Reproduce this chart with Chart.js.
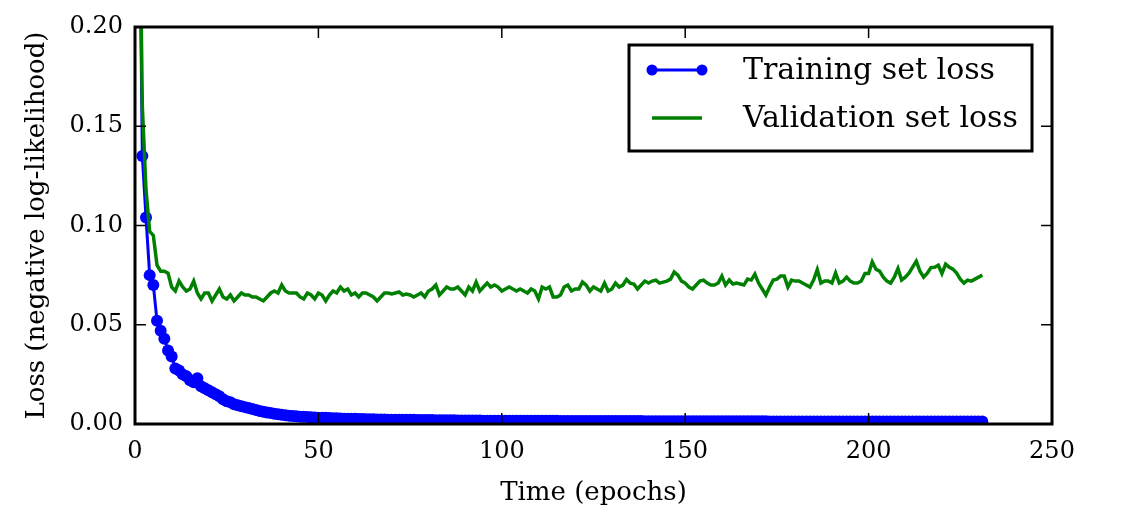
<!DOCTYPE html>
<html>
<head>
<meta charset="utf-8">
<script src="https://cdn.jsdelivr.net/npm/chart.js@4/dist/chart.umd.min.js"></script>
<style>
  html, body { margin: 0; padding: 0; background: #fff; }
  canvas { display: block; }
</style>
</head>
<body>
<canvas id="lossChart" width="1136" height="528"></canvas>
<script>
// loss per epoch (epoch 1 is above the top of the axes)
const trainLoss = [
  0.300, 0.135, 0.104, 0.075, 0.070, 0.052, 0.047, 0.043, 0.037, 0.034,
  0.028, 0.027, 0.025, 0.024, 0.022, 0.021, 0.023, 0.019, 0.018, 0.017,
  0.016, 0.015, 0.014, 0.0125, 0.0115, 0.011, 0.010, 0.0095, 0.009, 0.0085,
  0.008, 0.0075, 0.0070, 0.0066, 0.0062, 0.0058, 0.0055, 0.0052, 0.0049, 0.0046,
  0.0044, 0.0042, 0.0040, 0.0039, 0.0037, 0.0036, 0.0035, 0.0034, 0.0033, 0.0032,
  0.0031, 0.0031, 0.0030, 0.0029, 0.0029, 0.0028, 0.0027, 0.0027, 0.0026, 0.0026,
  0.0025, 0.0025, 0.0024, 0.0024, 0.0024, 0.0023, 0.0023, 0.0023, 0.0022, 0.0022,
  0.0022, 0.0022, 0.0021, 0.0021, 0.0021, 0.0021, 0.0020, 0.0020, 0.0020, 0.0020,
  0.0020, 0.0019, 0.0019, 0.0019, 0.0019, 0.0019, 0.0019, 0.0018, 0.0018, 0.0018,
  0.0018, 0.0018, 0.0018, 0.0018, 0.0017, 0.0017, 0.0017, 0.0017, 0.0017, 0.0017,
  0.0017, 0.0017, 0.0017, 0.0016, 0.0016, 0.0016, 0.0016, 0.0016, 0.0016, 0.0016,
  0.0016, 0.0016, 0.0016, 0.0016, 0.0016, 0.0015, 0.0015, 0.0015, 0.0015, 0.0015,
  0.0015, 0.0015, 0.0015, 0.0015, 0.0015, 0.0015, 0.0015, 0.0015, 0.0015, 0.0015,
  0.0015, 0.0015, 0.0015, 0.0015, 0.0015, 0.0015, 0.0015, 0.0015, 0.0014, 0.0014,
  0.0014, 0.0014, 0.0014, 0.0014, 0.0014, 0.0014, 0.0014, 0.0014, 0.0014, 0.0014,
  0.0014, 0.0014, 0.0014, 0.0014, 0.0014, 0.0014, 0.0014, 0.0014, 0.0014, 0.0014,
  0.0014, 0.0014, 0.0014, 0.0014, 0.0014, 0.0014, 0.0014, 0.0014, 0.0014, 0.0014,
  0.0014, 0.0014, 0.0013, 0.0013, 0.0013, 0.0013, 0.0013, 0.0013, 0.0013, 0.0013,
  0.0013, 0.0013, 0.0013, 0.0013, 0.0013, 0.0013, 0.0013, 0.0013, 0.0013, 0.0013,
  0.0013, 0.0013, 0.0013, 0.0013, 0.0013, 0.0013, 0.0013, 0.0013, 0.0013, 0.0013,
  0.0013, 0.0013, 0.0013, 0.0013, 0.0013, 0.0013, 0.0013, 0.0013, 0.0013, 0.0013,
  0.0013, 0.0013, 0.0013, 0.0013, 0.0013, 0.0013, 0.0013, 0.0013, 0.0013, 0.0013,
  0.0013, 0.0013, 0.0013, 0.0013, 0.0013, 0.0013, 0.0013, 0.0013, 0.0013, 0.0013,
  0.0013
];

const validLoss = [
  0.300, 0.160, 0.118, 0.097, 0.095, 0.080, 0.077, 0.077, 0.076, 0.069,
  0.067, 0.072, 0.069, 0.067, 0.068, 0.072, 0.066, 0.063, 0.066, 0.066,
  0.062, 0.065, 0.068, 0.064, 0.063, 0.065, 0.062, 0.064, 0.066, 0.065,
  0.065, 0.064, 0.064, 0.063, 0.062, 0.064, 0.066, 0.067, 0.066, 0.070,
  0.067, 0.066, 0.066, 0.066, 0.064, 0.063, 0.066, 0.065, 0.063, 0.066,
  0.065, 0.062, 0.065, 0.067, 0.066, 0.069, 0.067, 0.068, 0.065, 0.066,
  0.064, 0.066, 0.066, 0.065, 0.064, 0.062, 0.064, 0.066, 0.066, 0.0655,
  0.066, 0.0665, 0.065, 0.0655, 0.065, 0.064, 0.065, 0.066, 0.064, 0.067,
  0.068, 0.070, 0.065, 0.067, 0.069, 0.068, 0.068, 0.069, 0.067, 0.065,
  0.069, 0.067, 0.0715, 0.067, 0.069, 0.071, 0.069, 0.070, 0.069, 0.067,
  0.068, 0.069, 0.068, 0.067, 0.068, 0.067, 0.066, 0.068, 0.067, 0.063,
  0.069, 0.068, 0.069, 0.064, 0.064, 0.065, 0.069, 0.070, 0.067, 0.068,
  0.068, 0.0715, 0.070, 0.067, 0.069, 0.068, 0.067, 0.071, 0.067, 0.068,
  0.071, 0.069, 0.070, 0.0728, 0.071, 0.0705, 0.068, 0.070, 0.072, 0.071,
  0.072, 0.0725, 0.071, 0.0715, 0.072, 0.073, 0.0766, 0.075, 0.072, 0.071,
  0.069, 0.068, 0.070, 0.072, 0.0725, 0.071, 0.070, 0.070, 0.071, 0.0745,
  0.070, 0.0725, 0.0705, 0.071, 0.0705, 0.070, 0.073, 0.0725, 0.0755, 0.071,
  0.068, 0.065, 0.069, 0.0725, 0.073, 0.0745, 0.0745, 0.069, 0.0725, 0.072,
  0.072, 0.071, 0.070, 0.069, 0.0725, 0.0778, 0.071, 0.072, 0.072, 0.071,
  0.0761, 0.071, 0.072, 0.074, 0.072, 0.071, 0.071, 0.072, 0.0758, 0.0758,
  0.0817, 0.078, 0.077, 0.074, 0.072, 0.071, 0.074, 0.0783, 0.0725, 0.074,
  0.076, 0.079, 0.082, 0.077, 0.074, 0.076, 0.0788, 0.079, 0.080, 0.0758,
  0.0805, 0.079, 0.078, 0.076, 0.073, 0.071, 0.0725, 0.072, 0.073, 0.074,
  0.075
];

const epochs = trainLoss.map((v, i) => i + 1);
const xTicks = [0, 50, 100, 150, 200, 250];
const yTicks = [0.00, 0.05, 0.10, 0.15, 0.20];
const seriesNames = ['Training set loss', 'Validation set loss'];

const FONT = "'DejaVu Serif', serif";
Chart.defaults.font.family = FONT;
Chart.defaults.color = '#000';

// frame with inward ticks on all four sides, plus the boxed legend
const framePlugin = {
  id: 'frame',
  afterDatasetsDraw(chart) {
    const { ctx, chartArea: a, scales: { x, y } } = chart;
    ctx.save();
    ctx.strokeStyle = '#000';
    ctx.lineWidth = 1.5;
    ctx.beginPath();
    x.ticks.forEach(t => {
      const px = x.getPixelForValue(t.value);
      ctx.moveTo(px, a.bottom); ctx.lineTo(px, a.bottom - 11);
      ctx.moveTo(px, a.top); ctx.lineTo(px, a.top + 11);
    });
    y.ticks.forEach(t => {
      const py = y.getPixelForValue(t.value);
      ctx.moveTo(a.left, py); ctx.lineTo(a.left + 11, py);
      ctx.moveTo(a.right, py); ctx.lineTo(a.right - 11, py);
    });
    ctx.stroke();
    ctx.lineWidth = 3;
    ctx.strokeRect(a.left, a.top, a.right - a.left, a.bottom - a.top);

    // legend
    const bx = a.right - 423, by = a.top + 18, bw = 403, bh = 106;
    ctx.fillStyle = '#fff';
    ctx.fillRect(bx, by, bw, bh);
    ctx.lineWidth = 3;
    ctx.strokeRect(bx, by, bw, bh);

    const ds = chart.data.datasets;
    const rows = [by + 25, by + 73];
    ds.forEach(d => {
      const ry = rows[d.legendRow];
      ctx.strokeStyle = d.borderColor;
      ctx.lineWidth = d.borderWidth;
      ctx.beginPath();
      ctx.moveTo(bx + 23, ry); ctx.lineTo(bx + 73, ry);
      ctx.stroke();
      if (d.pointRadius > 0) {
        ctx.fillStyle = d.pointBackgroundColor;
        [bx + 23, bx + 73].forEach(cx => {
          ctx.beginPath();
          ctx.arc(cx, ry, 5.5, 0, Math.PI * 2);
          ctx.fill();
        });
      }
      ctx.fillStyle = '#000';
      ctx.font = '30px ' + FONT;
      ctx.textBaseline = 'middle';
      ctx.textAlign = 'left';
      ctx.fillText(d.label, bx + 114, ry + 1);
    });
    ctx.restore();
  }
};

new Chart(document.getElementById('lossChart'), {
  type: 'line',
  data: {
    datasets: [
      {
        label: seriesNames[0],
        legendRow: 0,
        data: epochs.map((e, i) => ({ x: e, y: trainLoss[i] })),
        borderColor: '#0000ff',
        backgroundColor: '#0000ff',
        pointBackgroundColor: '#0000ff',
        borderWidth: 3,
        pointRadius: 6,
        pointBorderWidth: 0,
        tension: 0,
        clip: 0,
        order: 2
      },
      {
        label: seriesNames[1],
        legendRow: 1,
        data: epochs.map((e, i) => ({ x: e, y: validLoss[i] })),
        borderColor: '#008000',
        backgroundColor: '#008000',
        borderWidth: 3.5,
        pointRadius: 0,
        tension: 0,
        clip: 0,
        order: 1
      }
    ]
  },
  options: {
    responsive: false,
    animation: false,
    events: [],
    layout: { padding: { top: 27, right: 84, bottom: 0, left: 0 } },
    plugins: { legend: { display: false }, tooltip: { enabled: false } },
    scales: {
      x: {
        type: 'linear',
        min: 0,
        max: 250,
        afterBuildTicks: s => { s.ticks = xTicks.map(v => ({ value: v })); },
        afterFit: s => { s.height = 104; },
        grid: { display: false, drawTicks: false },
        border: { display: false },
        ticks: { padding: 13, font: { size: 24 }, maxRotation: 0 },
        title: {
          display: true,
          text: 'Time (epochs)',
          font: { size: 26 },
          padding: { top: 0, bottom: 19 }
        }
      },
      y: {
        type: 'linear',
        min: 0,
        max: 0.2,
        afterBuildTicks: s => { s.ticks = yTicks.map(v => ({ value: v })); },
        afterFit: s => { s.width = 135; },
        grid: { display: false, drawTicks: false },
        border: { display: false },
        ticks: {
          padding: 12,
          font: { size: 24 },
          callback: v => v.toFixed(2)
        },
        title: {
          display: true,
          text: 'Loss (negative log-likelihood)',
          font: { size: 26 },
          padding: { top: 22, bottom: 0 }
        }
      }
    }
  },
  plugins: [framePlugin]
});
</script>
</body>
</html>
